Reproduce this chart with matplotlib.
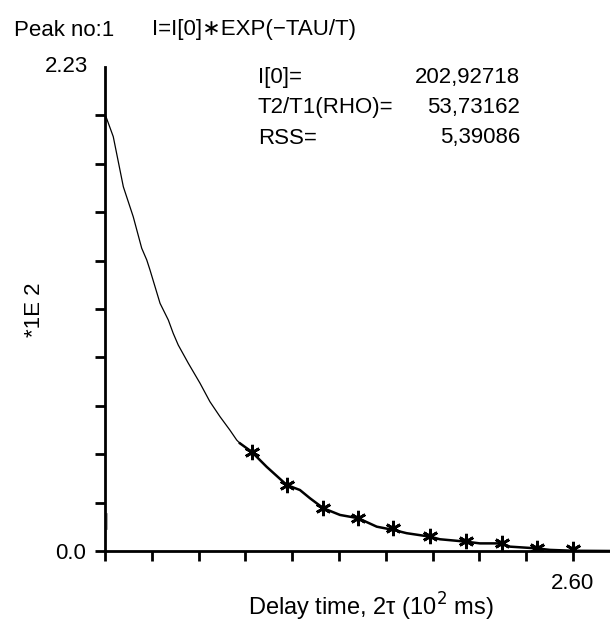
import matplotlib.pyplot as plt

plt.rcParams['font.family'] = ['Liberation Sans', 'DejaVu Sans']

# courbe, x en 10^2 ms, y en *1E2
curve_x = [0.006, 0.046, 0.102, 0.157, 0.204, 0.232, 0.250, 0.306, 0.352, 0.379,
           0.407, 0.463, 0.528, 0.583, 0.639, 0.694, 0.732, 0.750, 0.815, 0.898,
           1.010, 1.083, 1.139, 1.213, 1.306, 1.407, 1.510, 1.602, 1.676, 1.806,
           1.861, 2.006, 2.083, 2.204, 2.250, 2.399, 2.472, 2.602, 2.806]
curve_y = [2.000, 1.909, 1.678, 1.540, 1.395, 1.341, 1.295, 1.141, 1.064, 1.003,
           0.949, 0.865, 0.773, 0.688, 0.619, 0.557, 0.511, 0.496, 0.457, 0.388,
           0.304, 0.281, 0.243, 0.197, 0.166, 0.151, 0.112, 0.097, 0.082, 0.066,
           0.054, 0.043, 0.035, 0.035, 0.020, 0.012, 0.005, 0.001, 0.000]

# points mesurés (étoiles)
meas_x = [0.815, 1.010, 1.213, 1.407, 1.602, 1.806, 2.006, 2.204, 2.399, 2.602]
meas_y = [0.457, 0.304, 0.197, 0.151, 0.106, 0.069, 0.046, 0.037, 0.016, 0.007]

# petite trace grise près de l'origine
mark_x = [0.012, 0.012]
mark_y = [0.10, 0.17]

x_ticks = [0, 0.26, 0.52, 0.78, 1.04, 1.30, 1.56, 1.82, 2.08, 2.34, 2.60]
x_labels = ['', '', '', '', '', '', '', '', '', '', '2.60']
y_ticks = [0, 0.223, 0.446, 0.669, 0.892, 1.115, 1.338, 1.561, 1.784, 2.007]
y_labels = ['0.0', '', '', '', '', '', '', '', '', '']

fit_labels = ['I[0]=', 'T2/T1(RHO)=', 'RSS=']
fit_values = ['202,92718', '53,73162', '5,39086']

fs = 16
W, H = 610, 623

fig = plt.figure(figsize=(6.10, 6.23), dpi=100)
ax = fig.add_axes([0.1721, 0.1156, 0.8279, 0.7769])

# partie haute fine, queue plus épaisse
ax.plot(curve_x[:18], curve_y[:18], color='black', lw=0.9)
ax.plot(curve_x[17:], curve_y[17:], color='black', lw=1.8)
ax.plot(meas_x, meas_y, ls='none', marker=(6, 2, 0), ms=11, mew=2, color='black')
ax.plot(mark_x, mark_y, color='0.6', lw=1.2)

ax.set_xlim(0, 2.806)
ax.set_ylim(0, 2.23)

for s in ['top', 'right']:
    ax.spines[s].set_visible(False)
for s in ['left', 'bottom']:
    ax.spines[s].set_linewidth(2)

ax.set_xticks(x_ticks)
ax.set_xticklabels(x_labels)
ax.set_yticks(y_ticks)
ax.set_yticklabels(y_labels)
ax.tick_params(axis='both', direction='out', length=7, width=2, labelsize=fs)
ax.tick_params(axis='x', pad=9)
ax.tick_params(axis='y', pad=7)

fig.text(88 / W, 1 - 67 / H, '2.23', fontsize=fs, ha='right', va='center')

fig.text(35 / W, 1 - 310 / H, '*1E 2', fontsize=fs, rotation=90,
         ha='center', va='center')
fig.text(248 / W, 1 - 607 / H, 'Delay time, 2\u03c4 (10$^2$ ms)', fontsize=17,
         ha='left', va='center')

fig.text(14 / W, 1 - 30 / H, 'Peak no:1', fontsize=fs, va='center', ha='left')
fig.text(152 / W, 1 - 30 / H, 'I=I[0]\u2217EXP(\u2212TAU/T)', fontsize=fs,
         va='center', ha='left')

for i, (lab, val) in enumerate(zip(fit_labels, fit_values)):
    yy = 1 - (77 + 30.5 * i) / H
    fig.text(258 / W, yy, lab, fontsize=fs, va='center', ha='left')
    fig.text(520 / W, yy, val, fontsize=fs, va='center', ha='right')

fig.savefig('out.png', dpi=100)
